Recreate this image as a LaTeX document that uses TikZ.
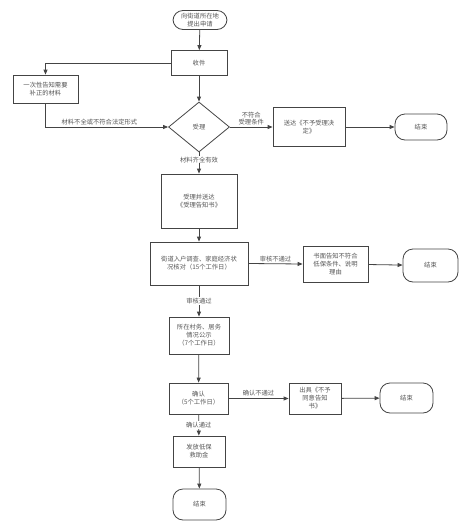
\documentclass[tikz,border=0pt]{standalone}
\usepackage{fontspec}
\newfontfamily\cjk{Noto Sans CJK SC}
\usetikzlibrary{arrows.meta,shapes.geometric}
\definecolor{linegray}{HTML}{444444}
\definecolor{textgray}{HTML}{555555}
\tikzset{
	box/.style={draw=linegray, line width=0.8pt, fill=white, align=center, inner sep=1pt,
		font=\cjk\fontsize{6.3}{8}\selectfont, text=textgray},
	term/.style={box, rounded corners=10pt},
	flow/.style={draw=linegray, line width=0.8pt, -{Triangle[length=5pt,width=4pt]}},
	lbl/.style={fill=white, inner sep=0.6pt, font=\cjk\fontsize{6.3}{7.5}\selectfont, text=textgray, align=center}
}
\begin{document}
\begin{tikzpicture}[x=1pt,y=-1pt]
	\useasboundingbox (0,0) rectangle (471,531);
	% main column
	\node[term, minimum width=54pt, minimum height=19pt] (apply) at (200,20) {向街道所在地\\提出申请};
	\node[box, minimum width=56pt, minimum height=25pt] (receive) at (199,63) {收件};
	\node[box, minimum width=65pt, minimum height=28pt] (notify) at (45.5,89) {一次性告知需要\\补正的材料};
	\node[draw=linegray, line width=0.8pt, diamond, minimum width=61pt, minimum height=50pt, inner sep=0pt,
		font=\cjk\fontsize{6.3}{8}\selectfont, text=textgray] (accept) at (199,127) {受理};
	\node[box, minimum width=72pt, minimum height=39pt] (reject) at (309,127) {送达《不予受理决\\定》};
	\node[term, minimum width=52pt, minimum height=26pt] (end1) at (421,127) {结束};
	\node[box, minimum width=76pt, minimum height=54pt] (accepted) at (199,201) {受理并送达\\《受理告知书》};
	\node[box, minimum width=98pt, minimum height=43pt] (survey) at (199,263.5) {街道入户调查、家庭经济状\\况核对（15个工作日）};
	\node[box, minimum width=65pt, minimum height=36pt] (written) at (335.5,264) {书面告知不符合\\低保条件、说明\\理由};
	\node[term, minimum width=55pt, minimum height=33pt] (end2) at (430.5,265.5) {结束};
	\node[box, minimum width=60pt, minimum height=37pt] (publicity) at (199,335.5) {所在村务、居务\\情况公示\\（7个工作日）};
	\node[box, minimum width=59pt, minimum height=31pt] (confirm) at (198.5,398.5) {确认\\（5个工作日）};
	\node[box, minimum width=52pt, minimum height=31pt] (refuse) at (315,398.5) {出具《不予\\同意告知\\书》};
	\node[term, minimum width=53pt, minimum height=30pt] (end3) at (406.5,398) {结束};
	\node[box, minimum width=52pt, minimum height=31pt] (grant) at (199,451.5) {发放低保\\救助金};
	\node[term, minimum width=53pt, minimum height=31pt] (end4) at (199.5,504.5) {结束};
	% connectors
	\draw[flow] (apply) -- (receive);
	\draw[flow] (receive) -- (accept);
	\draw[flow] (receive.west) -| (notify.north);
	\draw[flow] (notify.south) |- (accept.west) node[lbl, pos=0.72, above=1pt] {材料不全或不符合法定形式};
	\draw[flow] (accept.east) -- (reject.west) node[lbl, midway, above=1pt] {不符合\\受理条件};
	\draw[flow] (reject) -- (end1);
	\draw[flow] (accept.south) -- (accepted.north) node[lbl, pos=0.35] {材料齐全有效};
	\draw[flow] (accepted) -- (survey);
	\draw[flow] (survey.east) -- (written.west) node[lbl, midway, above=1pt] {审核不通过};
	\draw[flow] (written) -- (end2);
	\draw[flow] (survey) -- (publicity) node[lbl, midway] {审核通过};
	\draw[flow] (publicity) -- (confirm);
	\draw[flow] (confirm.east) -- (refuse.west) node[lbl, midway, above=1pt] {确认不通过};
	\draw[flow] (refuse) -- (end3);
	\draw[flow] (confirm) -- (grant) node[lbl, midway] {确认通过};
	\draw[flow] (grant) -- (end4);
\end{tikzpicture}
\end{document}
